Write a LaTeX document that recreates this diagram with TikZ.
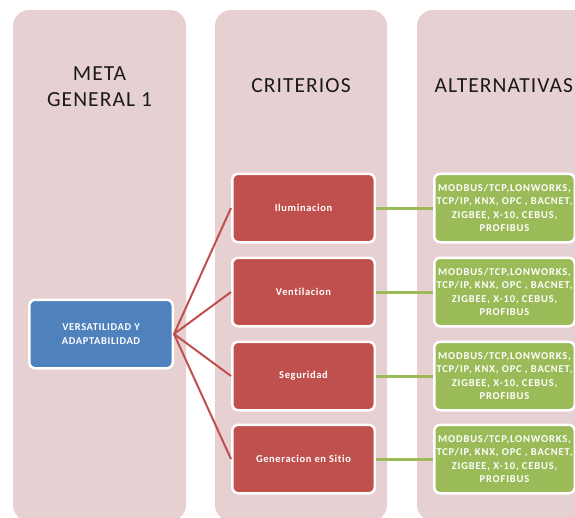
\documentclass[tikz,border=0pt]{standalone}
\usepackage{fontspec}
\setmainfont{Carlito}
\newfontfamily\hdfont[LetterSpace=5,Ligatures=NoCommon]{Carlito}
\newfontfamily\boxfont[LetterSpace=6,Ligatures=NoCommon]{Carlito}
\newfontfamily\altfont[LetterSpace=8,Ligatures=NoCommon]{Carlito}
\definecolor{pinkbg}{HTML}{E7D0D1}
\definecolor{accblue}{HTML}{4F81BD}
\definecolor{accred}{HTML}{C0504D}
\definecolor{accgreen}{HTML}{9BBB59}
\definecolor{headtxt}{HTML}{1A1A1A}
\begin{document}
\begin{tikzpicture}[x=1pt,y=-1pt,
  colbg/.style={fill=pinkbg, rounded corners=16pt},
  head/.style={text=headtxt, font=\hdfont\fontsize{21.5}{26}\selectfont, align=center, inner sep=0pt},
  box/.style={draw=white, line width=2.5pt, rounded corners=6pt, text=white,
    font=\boxfont\fontsize{10.5}{14.5}\selectfont\bfseries, align=center, inner sep=0pt, minimum height=68.5pt},
  bluebox/.style={box, fill=accblue, minimum width=143.5pt},
  redbox/.style={box, fill=accred, minimum width=142.5pt},
  greenbox/.style={box, fill=accgreen, minimum width=140.5pt, font=\altfont\fontsize{10.5}{13.5}\selectfont\bfseries},
  redline/.style={draw=accred, line width=2pt},
  greenline/.style={draw=accgreen, line width=3pt}]
\useasboundingbox (0,0) rectangle (575,517);
\fill[colbg] (13,10) rectangle (186,521);
\fill[colbg] (215,10) rectangle (387,521);
\fill[colbg] (417,10) rectangle (600,521);
\node[head] (h1) at (99.5,86.5) {META\\GENERAL 1};
\node[head, anchor=base] (h2) at (301,92.7) {CRITERIOS};
\node[head, anchor=base west] (h3) at (434.5,92.7) {ALTERNATIVAS};
\node[bluebox] (meta) at (101,334) {VERSATILIDAD Y\\ADAPTABILIDAD};
\node[redbox] (c1) at (303.5,208) {Iluminacion};
\node[redbox] (c2) at (303.5,292) {Ventilacion};
\node[redbox] (c3) at (303.5,376) {Seguridad};
\node[redbox] (c4) at (303.5,459) {Generacion en Sitio};
\foreach \i/\y in {1/208,2/292,3/376,4/459}{
  \node[greenbox] (a\i) at (504.5,\y) {MODBUS/TCP,LONWORKS,\\TCP/IP, KNX, OPC , BACNET,\\ZIGBEE, X-10, CEBUS,\\PROFIBUS};
}
\foreach \i in {1,2,3,4}{
  \draw[redline] (meta.east) -- (c\i.west);
  \draw[greenline] (c\i.east) -- (a\i.west);
}
\end{tikzpicture}
\end{document}
